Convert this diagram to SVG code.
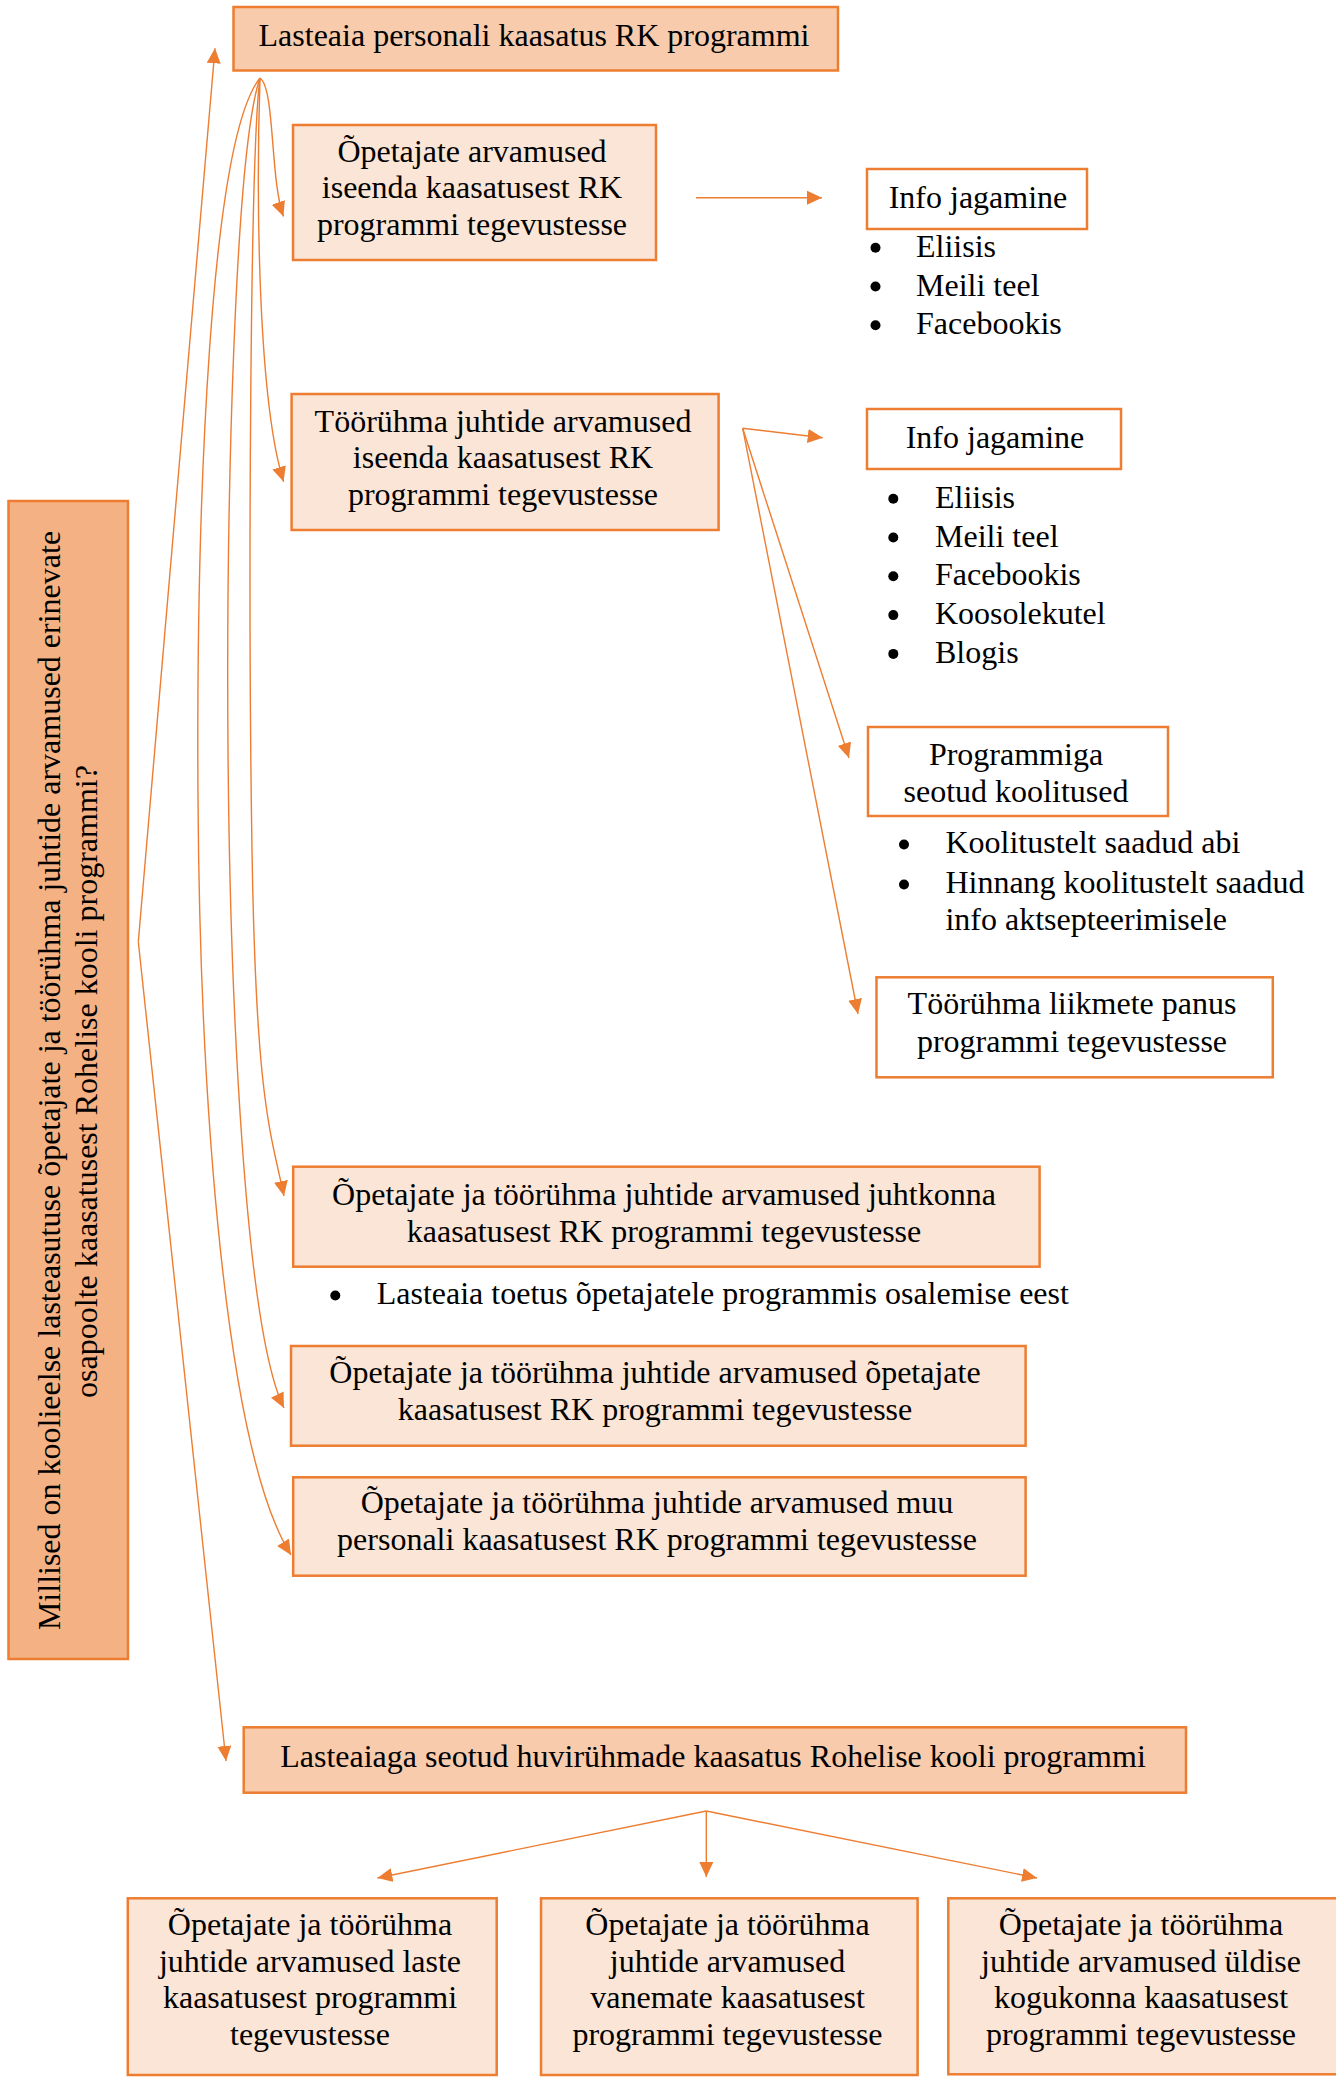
<svg xmlns="http://www.w3.org/2000/svg" width="1336" height="2078" viewBox="0 0 1336 2078">
<defs>
<marker id="ah" markerUnits="userSpaceOnUse" markerWidth="16" markerHeight="15" refX="15" refY="7" orient="auto">
<path d="M0,0 L15,7 L0,14 z" fill="#ED7D31"/>
</marker>
<style>
.a{fill:#F8CBAD;stroke:#ED7D31;stroke-width:2.5}
.b{fill:#FBE5D6;stroke:#ED7D31;stroke-width:2.5}
.q{fill:#F4B183;stroke:#ED7D31;stroke-width:2.5}
.w{fill:#FFFFFF;stroke:#ED7D31;stroke-width:2.5}
.t{font-family:"Liberation Serif","Times New Roman",serif;font-size:32px;fill:#000}
.m{text-anchor:middle}
.conn{fill:none;stroke:#ED7D31;stroke-width:1.4;marker-end:url(#ah)}
.dot{fill:#000}
</style>
</defs>
<rect width="1336" height="2078" fill="#FFFFFF"/>

<g id="connectors">
<path class="conn" d="M138.3,941.7 L215,48.3"/>
<path class="conn" d="M138.3,941.7 L226,1761"/>
<path class="conn" d="M260,78 C275,88 270,180 283.5,216.5"/>
<path class="conn" d="M260,78 C256,200 258,400 283.6,481.7"/>
<path class="conn" d="M260,78 C250,150 248,600 252,850 S270,1130 284,1196"/>
<path class="conn" d="M260,78 C235,150 226,500 228,750 S245,1330 284,1408"/>
<path class="conn" d="M260,78 C210,140 196,500 198,800 S225,1450 291,1555"/>
<path class="conn" d="M696,197.7 L822,197.7"/>
<path class="conn" d="M742.7,428.3 L822.7,437.7"/>
<path class="conn" d="M742.7,428.3 L849,758"/>
<path class="conn" d="M742.7,428.3 L858,1014"/>
<path class="conn" d="M706.3,1811 L377.4,1878"/>
<path class="conn" d="M706.3,1811 L706.3,1877"/>
<path class="conn" d="M706.3,1811 L1037,1878"/>
</g>

<g id="question">
<rect class="q" x="8.5" y="501" width="119.5" height="1158"/>
<text class="t m" transform="translate(60,1080.5) rotate(-90)">Millised on koolieelse lasteasutuse õpetajate ja töörühma juhtide arvamused erinevate</text>
<text class="t m" transform="translate(97,1081.5) rotate(-90)">osapoolte kaasatusest Rohelise kooli programmi?</text>
</g>

<g id="personal">
<rect class="a" x="233.5" y="7" width="604.5" height="63.5"/>
<text class="t m" x="534" y="45.5">Lasteaia personali kaasatus RK programmi</text>
</g>

<g id="opetajate-arvamused">
<rect class="b" x="293" y="125" width="363" height="135"/>
<text class="t m" x="472" y="161.7">Õpetajate arvamused</text>
<text class="t m" x="472" y="198.3">iseenda kaasatusest RK</text>
<text class="t m" x="472" y="235">programmi tegevustesse</text>
</g>

<g id="info1">
<rect class="w" x="867" y="169" width="220" height="60"/>
<text class="t m" x="978" y="208">Info jagamine</text>
<circle class="dot" cx="875.5" cy="247.7" r="5"/>
<circle class="dot" cx="875.5" cy="286.5" r="5"/>
<circle class="dot" cx="875.5" cy="325.3" r="5"/>
<text class="t" x="916" y="256.7">Eliisis</text>
<text class="t" x="916" y="295.5">Meili teel</text>
<text class="t" x="916" y="334.3">Facebookis</text>
</g>

<g id="toorühma-juhtide">
<rect class="b" x="291.6" y="394" width="427" height="136"/>
<text class="t m" x="503" y="431.7">Töörühma juhtide arvamused</text>
<text class="t m" x="503" y="468.3">iseenda kaasatusest RK</text>
<text class="t m" x="503" y="505">programmi tegevustesse</text>
</g>

<g id="info2">
<rect class="w" x="867" y="409" width="254" height="60"/>
<text class="t m" x="995" y="447.7">Info jagamine</text>
<circle class="dot" cx="893.3" cy="498.7" r="5"/>
<circle class="dot" cx="893.3" cy="537.5" r="5"/>
<circle class="dot" cx="893.3" cy="576.3" r="5"/>
<circle class="dot" cx="893.3" cy="615.1" r="5"/>
<circle class="dot" cx="893.3" cy="653.9" r="5"/>
<text class="t" x="935" y="507.7">Eliisis</text>
<text class="t" x="935" y="546.5">Meili teel</text>
<text class="t" x="935" y="585.3">Facebookis</text>
<text class="t" x="935" y="624.1">Koosolekutel</text>
<text class="t" x="935" y="662.9">Blogis</text>
</g>

<g id="koolitused">
<rect class="w" x="868" y="727" width="300" height="89"/>
<text class="t m" x="1016" y="765">Programmiga</text>
<text class="t m" x="1016" y="801.7">seotud koolitused</text>
<circle class="dot" cx="904" cy="844.5" r="5"/>
<circle class="dot" cx="904" cy="884.5" r="5"/>
<text class="t" x="945.4" y="853.3">Koolitustelt saadud abi</text>
<text class="t" x="945.4" y="893.3">Hinnang koolitustelt saadud</text>
<text class="t" x="945.4" y="930">info aktsepteerimisele</text>
</g>

<g id="liikmete-panus">
<rect class="w" x="876.5" y="977.3" width="396.3" height="100"/>
<text class="t m" x="1072" y="1014">Töörühma liikmete panus</text>
<text class="t m" x="1072" y="1051.7">programmi tegevustesse</text>
</g>

<g id="juhtkonna">
<rect class="b" x="293.2" y="1166.7" width="746.4" height="100"/>
<text class="t m" x="664" y="1205">Õpetajate ja töörühma juhtide arvamused juhtkonna</text>
<text class="t m" x="664" y="1241.7">kaasatusest RK programmi tegevustesse</text>
<circle class="dot" cx="335.3" cy="1295.5" r="5"/>
<text class="t" x="376.7" y="1304">Lasteaia toetus õpetajatele programmis osalemise eest</text>
</g>

<g id="opetajate-kaasatus">
<rect class="b" x="291" y="1346" width="734.6" height="99.7"/>
<text class="t m" x="655" y="1383.3">Õpetajate ja töörühma juhtide arvamused õpetajate</text>
<text class="t m" x="655" y="1420">kaasatusest RK programmi tegevustesse</text>
</g>

<g id="muu-personal">
<rect class="b" x="293.2" y="1477.3" width="732.4" height="98.4"/>
<text class="t m" x="657" y="1513.3">Õpetajate ja töörühma juhtide arvamused muu</text>
<text class="t m" x="657" y="1550">personali kaasatusest RK programmi tegevustesse</text>
</g>

<g id="huvirühmad">
<rect class="a" x="243.7" y="1727.3" width="942.3" height="65.4"/>
<text class="t m" x="713" y="1766.7">Lasteaiaga seotud huvirühmade kaasatus Rohelise kooli programmi</text>
</g>

<g id="laste">
<rect class="b" x="127.8" y="1898.3" width="368.9" height="176.7"/>
<text class="t m" x="310" y="1935">Õpetajate ja töörühma</text>
<text class="t m" x="310" y="1971.7">juhtide arvamused laste</text>
<text class="t m" x="310" y="2008.3">kaasatusest programmi</text>
<text class="t m" x="310" y="2045">tegevustesse</text>
</g>

<g id="vanemate">
<rect class="b" x="541" y="1898.3" width="376.6" height="176.7"/>
<text class="t m" x="727.5" y="1935">Õpetajate ja töörühma</text>
<text class="t m" x="727.5" y="1971.7">juhtide arvamused</text>
<text class="t m" x="727.5" y="2008.3">vanemate kaasatusest</text>
<text class="t m" x="727.5" y="2045">programmi tegevustesse</text>
</g>

<g id="kogukonna">
<rect class="b" x="948.3" y="1898.3" width="400" height="176"/>
<text class="t m" x="1141" y="1935">Õpetajate ja töörühma</text>
<text class="t m" x="1141" y="1971.7">juhtide arvamused üldise</text>
<text class="t m" x="1141" y="2008.3">kogukonna kaasatusest</text>
<text class="t m" x="1141" y="2045">programmi tegevustesse</text>
</g>
</svg>
